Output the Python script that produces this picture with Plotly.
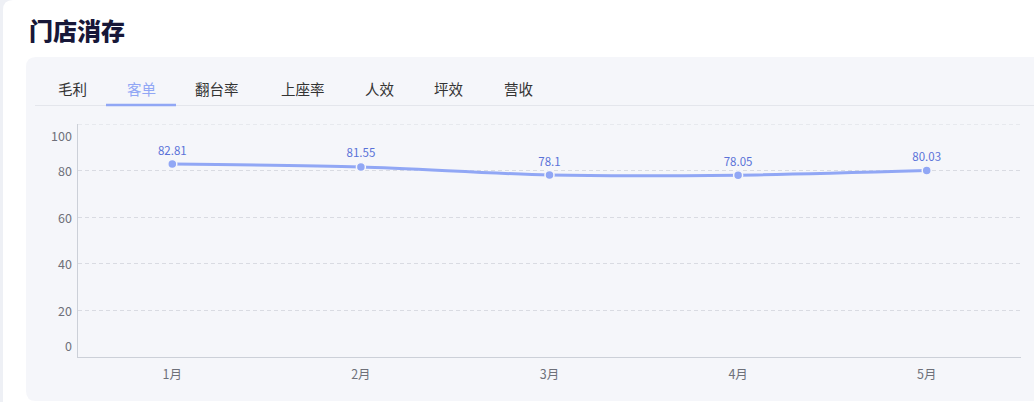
import plotly.graph_objects as go

# chart data
months = ["1月", "2月", "3月", "4月", "5月"]
values = [82.81, 81.55, 78.1, 78.05, 80.03]
value_labels = ["82.81", "81.55", "78.1", "78.05", "80.03"]
y_ticks = [0, 20, 40, 60, 80, 100]
tabs = ["毛利", "客单", "翻台率", "上座率", "人效", "坪效", "营收"]
tab_centers = [72, 141, 217, 303, 380, 449, 518]
active_tab = "客单"
title_text = "门店消存"

W, H = 1034, 402
ML, MR, MT, MB = 78, 13, 124, 45
PW = W - ML - MR
PH = H - MT - MB

LINE_BLUE = "#91a7f5"
LABEL_BLUE = "#5a72d8"
AXIS_GREY = "#6e7079"
GRID = "#d9dbe2"
FONT = "Noto Sans CJK SC"


def px(x):
    return (x - ML) / PW


def py(y):
    return (H - MB - y) / PH


def rounded_rect(x0, y0, x1, y1, r):
    return (
        f"M {px(x0 + r)},{py(y0)} L {px(x1 - r)},{py(y0)} "
        f"Q {px(x1)},{py(y0)} {px(x1)},{py(y0 + r)} L {px(x1)},{py(y1 - r)} "
        f"Q {px(x1)},{py(y1)} {px(x1 - r)},{py(y1)} L {px(x0 + r)},{py(y1)} "
        f"Q {px(x0)},{py(y1)} {px(x0)},{py(y1 - r)} L {px(x0)},{py(y0 + r)} "
        f"Q {px(x0)},{py(y0)} {px(x0 + r)},{py(y0)} Z"
    )


fig = go.Figure(
    go.Scatter(
        x=months,
        y=values,
        mode="lines+markers+text",
        text=value_labels,
        textposition="top center",
        textfont=dict(size=11.5, color=LABEL_BLUE, family=FONT),
        line=dict(color=LINE_BLUE, width=3, shape="spline", smoothing=0.8),
        marker=dict(size=9, color=LINE_BLUE, line=dict(width=1.5, color="#f5f6fa")),
        cliponaxis=False,
        hoverinfo="x+y",
    )
)

shapes = [
    dict(type="path", path=rounded_rect(3, 0, 1060, 430, 10), xref="paper", yref="paper",
         fillcolor="#ffffff", line=dict(width=0), layer="below"),
    dict(type="path", path=rounded_rect(26, 57, 1060, 401, 10), xref="paper", yref="paper",
         fillcolor="#f5f6fa", line=dict(width=0), layer="below"),
    dict(type="line", x0=px(35), x1=px(1040), y0=py(105.5), y1=py(105.5), xref="paper", yref="paper",
         line=dict(color="#e4e6ec", width=1), layer="below"),
    # plotly drops the gridline sitting on the top edge, so draw it here
    dict(type="line", x0=0, x1=1, y0=max(y_ticks), y1=max(y_ticks), xref="paper", yref="y",
         line=dict(color=GRID, width=1, dash="4px,3px"), layer="below"),
]

annotations = [
    dict(text=title_text, x=px(27), y=py(29), xref="paper", yref="paper",
         xanchor="left", yanchor="middle", showarrow=False,
         font=dict(size=24, color="#171738", family=FONT, weight=900)),
]

for name, cx in zip(tabs, tab_centers):
    active = name == active_tab
    annotations.append(dict(
        text=name, x=px(cx), y=py(88), xref="paper", yref="paper",
        xanchor="center", yanchor="middle", showarrow=False,
        font=dict(size=14.5, color=LINE_BLUE if active else "#333333", family=FONT),
    ))
    if active:
        shapes.append(dict(type="line", x0=px(cx - 35), x1=px(cx + 35), y0=py(105), y1=py(105),
                           xref="paper", yref="paper", line=dict(color=LINE_BLUE, width=2.5)))

# y tick labels, the outer ones pulled inward like the original
for v in y_ticks:
    shift = -11 if v == max(y_ticks) else (12 if v == min(y_ticks) else 0)
    annotations.append(dict(
        text=str(v), x=0, y=v, xref="paper", yref="y", xanchor="right", yanchor="middle",
        xshift=-4, yshift=shift, showarrow=False,
        font=dict(size=12.5, color=AXIS_GREY, family=FONT),
    ))

fig.update_layout(
    width=W,
    height=H,
    margin=dict(l=ML, r=MR, t=MT, b=MB),
    paper_bgcolor="#eef0f5",
    plot_bgcolor="rgba(0,0,0,0)",
    showlegend=False,
    shapes=shapes,
    annotations=annotations,
    font=dict(family=FONT),
)
fig.update_xaxes(
    type="category",
    range=[-0.5, len(months) - 0.5],
    showgrid=False,
    showline=True,
    linecolor="#ccd0d8",
    linewidth=1,
    ticks="",
    ticklabelstandoff=6,
    tickfont=dict(size=12.5, color=AXIS_GREY, family=FONT),
    fixedrange=True,
)
fig.update_yaxes(
    range=[0, 100],
    tickvals=y_ticks,
    showticklabels=False,
    showgrid=True,
    gridcolor=GRID,
    griddash="4px,3px",
    gridwidth=1,
    zeroline=False,
    showline=True,
    linecolor="#ccd0d8",
    linewidth=1,
    fixedrange=True,
)

fig.write_html(
    "out.html",
    config={"displayModeBar": False},
    post_script="document.body.style.margin='0';document.body.style.overflow='hidden';",
)
